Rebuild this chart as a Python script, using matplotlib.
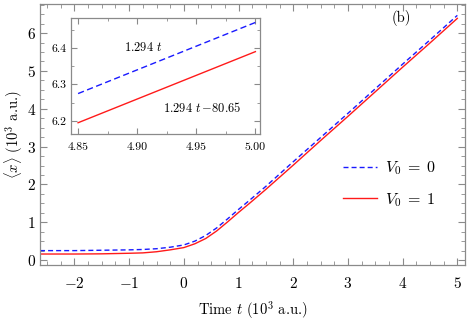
#!/usr/bin/env python3
"""
Gráfico da posição média <x> em função do tempo (painel b)
"""
import matplotlib
matplotlib.use('Agg')
import matplotlib.pyplot as plt
from matplotlib.ticker import MultipleLocator

plt.rcParams['font.family'] = 'serif'
plt.rcParams['font.serif'] = ['cmr10']
plt.rcParams['mathtext.fontset'] = 'cm'
plt.rcParams['axes.formatter.use_mathtext'] = True
plt.rcParams['axes.unicode_minus'] = True

# Dados (tempo em 10^3 a.u., <x> em 10^3 a.u.)
tempo = [-2.63, -2.0, -1.5, -1.0, -0.75, -0.5, -0.25, 0.0, 0.2, 0.4, 0.6,
         0.8, 1.0, 1.2, 1.5, 2.0, 2.5, 3.0, 3.5, 4.0, 4.5, 5.0]
x_v0 = [0.25, 0.25, 0.26, 0.27, 0.28, 0.30, 0.34, 0.40, 0.50, 0.65, 0.85,
        1.09, 1.34, 1.58, 1.95, 2.60, 3.24, 3.88, 4.53, 5.18, 5.82, 6.47]
x_v1 = [0.16, 0.16, 0.165, 0.18, 0.19, 0.22, 0.27, 0.33, 0.43, 0.57, 0.77,
        1.01, 1.26, 1.50, 1.87, 2.51, 3.16, 3.80, 4.45, 5.10, 5.74, 6.39]

# Dados do detalhe (inset)
tempo_inset = [4.85, 5.00]
x_v0_inset = [6.275, 6.47]
x_v1_inset = [6.195, 6.39]

rotulos = [r'$V_0\;=\;0$', r'$V_0\;=\;1$']
cor_moldura = '#8a8a8a'


def estilo_eixos(ax, tam_fonte, maior, menor):
    """Aplica estilo de moldura com ticks para dentro"""
    for lado in ax.spines.values():
        lado.set_color(cor_moldura)
        lado.set_linewidth(0.9)
    ax.tick_params(which='both', direction='in', top=True, right=True,
                   color=cor_moldura, labelsize=tam_fonte)
    ax.tick_params(which='major', length=maior, width=0.8)
    ax.tick_params(which='minor', length=menor, width=0.6)


fig = plt.figure(figsize=(4.67, 3.23), dpi=100)
ax = fig.add_axes([0.0857, 0.1796, 0.91, 0.808])

# Curvas principais
ax.plot(tempo, x_v0, color='#1a1aff', lw=1.0, dashes=(3.6, 2.2), label=rotulos[0])
ax.plot(tempo, x_v1, color='#ff1a1a', lw=1.0, label=rotulos[1])

ax.set_xlim(-2.63, 5.14)
ax.set_ylim(-0.13, 6.77)
ax.xaxis.set_major_locator(MultipleLocator(1))
ax.xaxis.set_minor_locator(MultipleLocator(0.25))
ax.yaxis.set_major_locator(MultipleLocator(1))
ax.yaxis.set_minor_locator(MultipleLocator(0.25))
estilo_eixos(ax, 11, 5, 3)
ax.tick_params(axis='x', pad=8)
ax.tick_params(axis='y', pad=3)

ax.set_xlabel(r'Time $t$ (10$^3$ a.u.)', fontsize=10.5, labelpad=6)
ax.set_ylabel(r'$\langle x\rangle$ (10$^3$ a.u.)', fontsize=10.5, labelpad=1)
ax.text(0.849, 0.946, '(b)', transform=ax.transAxes, fontsize=10.5,
        ha='center', va='center')

ax.legend(loc='center left', bbox_to_anchor=(0.68, 0.31), frameon=False,
          fontsize=11.5, handlelength=2.1, labelspacing=0.85, handletextpad=0.5)

# Detalhe (inset)
axi = fig.add_axes([0.152, 0.585, 0.405, 0.359])
axi.plot(tempo_inset, x_v0_inset, color='#1a1aff', lw=1.0, dashes=(4.5, 2.5))
axi.plot(tempo_inset, x_v1_inset, color='#ff1a1a', lw=1.0)
axi.set_xlim(4.844, 5.004)
axi.set_ylim(6.164, 6.482)
axi.xaxis.set_major_locator(MultipleLocator(0.05))
axi.xaxis.set_minor_locator(MultipleLocator(0.025))
axi.yaxis.set_major_locator(MultipleLocator(0.1))
axi.yaxis.set_minor_locator(MultipleLocator(0.05))
axi.xaxis.set_major_formatter(plt.FormatStrFormatter('%.2f'))
axi.yaxis.set_major_formatter(plt.FormatStrFormatter('%.1f'))
estilo_eixos(axi, 8.5, 4, 2.5)
axi.tick_params(axis='x', pad=6)
axi.tick_params(axis='y', pad=3)
axi.text(4.905, 6.40, r'1.294 $t$', fontsize=9, ha='center', va='center')
axi.text(4.955, 6.236, r'1.294 $t\,$$-$80.65', fontsize=9, ha='center', va='center')

fig.savefig('out.png', dpi=100)
